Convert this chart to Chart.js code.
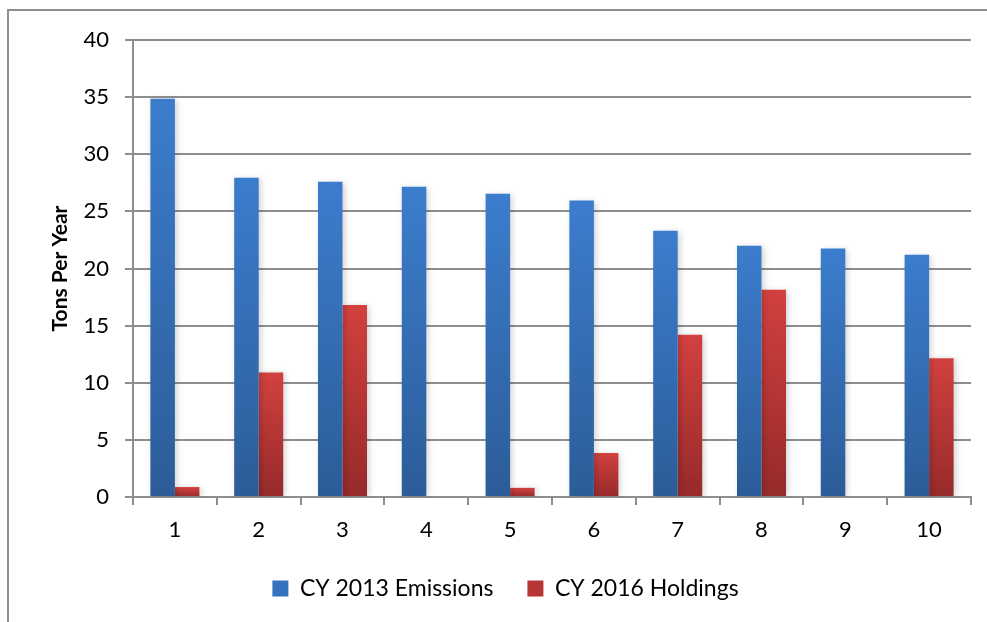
<!DOCTYPE html>
<html>
<head>
<meta charset="utf-8">
<script src="https://cdn.jsdelivr.net/npm/chart.js@4"></script>
<style>
    html, body { margin: 0; padding: 0; background: #fff; }
    #wrap { position: relative; width: 987px; height: 622px; overflow: hidden; }
    #frame { position: absolute; left: 7px; top: 9px; width: 1000px; height: 700px; border: 2px solid #8e8e8e; }
    #chart { position: absolute; left: 0; top: 0; }
</style>
</head>
<body>
<div id="wrap">
    <div id="frame"></div>
    <canvas id="chart" width="987" height="622"></canvas>
</div>
<script>
const categories = ['1', '2', '3', '4', '5', '6', '7', '8', '9', '10'];
const emissions2013 = [34.85, 27.95, 27.6, 27.15, 26.55, 25.95, 23.3, 22.0, 21.75, 21.2];
const holdings2016 = [0.87, 10.9, 16.8, 0, 0.8, 3.85, 14.2, 18.15, 0, 12.15];
const yTicks = { min: 0, max: 40, step: 5 };

function barGradient(top, bottom) {
    return (ctx) => {
        const chart = ctx.chart;
        const y = chart.scales.y;
        if (!y || ctx.parsed === undefined || ctx.parsed === null) return top;
        const y0 = y.getPixelForValue(0);
        const y1 = y.getPixelForValue(ctx.parsed.y);
        if (!isFinite(y0) || !isFinite(y1) || y0 === y1) return top;
        const g = chart.ctx.createLinearGradient(0, y1, 0, y0);
        g.addColorStop(0, top);
        g.addColorStop(1, bottom);
        return g;
    };
}

const shadowPlugin = {
    id: 'barShadow',
    beforeDatasetsDraw(chart) {
        const c = chart.ctx;
        c.save();
        c.shadowColor = 'rgba(0,0,0,0.18)';
        c.shadowBlur = 6;
        c.shadowOffsetX = 2;
        c.shadowOffsetY = 1;
    },
    afterDatasetsDraw(chart) {
        chart.ctx.restore();
    }
};

new Chart(document.getElementById('chart'), {
    type: 'bar',
    data: {
        labels: categories,
        datasets: [{
            label: 'CY 2013 Emissions',
            data: emissions2013,
            backgroundColor: barGradient('#3b7dcd', '#2c5c98'),
            borderWidth: 0
        }, {
            label: 'CY 2016 Holdings',
            data: holdings2016,
            backgroundColor: barGradient('#d2413f', '#962a2a'),
            borderWidth: 0
        }]
    },
    plugins: [shadowPlugin],
    options: {
        responsive: false,
        animation: false,
        categoryPercentage: 0.585,
        barPercentage: 1.0,
        layout: { padding: { left: 40, top: 40, right: 16, bottom: 12 } },
        plugins: {
            tooltip: { enabled: false },
            legend: {
                position: 'bottom',
                labels: {
                    color: '#000',
                    font: { family: 'Lato', size: 23 },
                    boxWidth: 16,
                    boxHeight: 16,
                    padding: 34,
                    generateLabels(chart) {
                        return chart.data.datasets.map((ds, i) => ({
                            text: ds.label,
                            fillStyle: i === 0 ? '#3572c0' : '#b83535',
                            strokeStyle: 'transparent',
                            lineWidth: 0,
                            datasetIndex: i,
                            hidden: false
                        }));
                    }
                }
            }
        },
        scales: {
            x: {
                grid: {
                    offset: true,
                    drawOnChartArea: false,
                    drawTicks: true,
                    tickLength: 8,
                    color: '#8e8e8e',
                    lineWidth: 2
                },
                border: { display: true, color: '#8e8e8e', width: 2 },
                ticks: {
                    color: '#000',
                    font: { family: 'Lato', size: 22 },
                    padding: 12
                },
                afterFit(scale) { scale.height = 46; }
            },
            y: {
                min: yTicks.min,
                max: yTicks.max,
                ticks: {
                    stepSize: yTicks.step,
                    color: '#000',
                    font: { family: 'Lato', size: 22 },
                    padding: 16
                },
                grid: {
                    color: '#8e8e8e',
                    lineWidth: 2,
                    tickLength: 8
                },
                border: { display: true, color: '#8e8e8e', width: 2 },
                title: {
                    display: true,
                    text: 'Tons Per Year',
                    color: '#000',
                    font: { family: 'Lato', size: 21, weight: 'bold' },
                    padding: { top: 8, bottom: 8 }
                },
                afterFit(scale) { scale.width = 93; }
            }
        }
    }
});
</script>
</body>
</html>
